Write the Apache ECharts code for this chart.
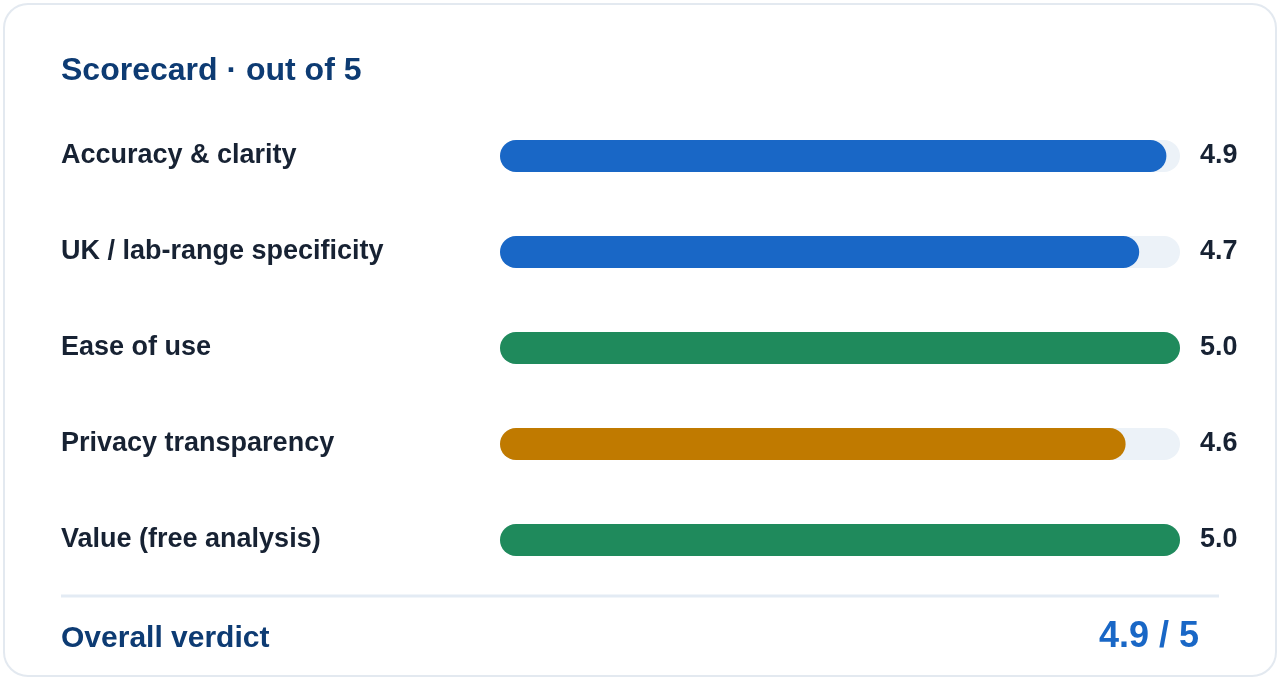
<!DOCTYPE html>
<html>
<head>
<meta charset="utf-8">
<script src="https://cdn.jsdelivr.net/npm/echarts@6/dist/echarts.min.js"></script>
<style>
html,body{margin:0;padding:0;background:#ffffff;}
#chart{width:1280px;height:680px;}
</style>
</head>
<body>
<div id="chart"></div>
<script>
const categories = ["Accuracy & clarity", "UK / lab-range specificity", "Ease of use", "Privacy transparency", "Value (free analysis)"];
const scores = [4.9, 4.7, 5.0, 4.6, 5.0];
const maxScore = 5;
const overallScore = 4.9;
const titleText = "Scorecard \u00b7 out of 5";
const verdictLabel = "Overall verdict";

const barColors = ["#1967c6", "#1967c6", "#1f8a5c", "#c07a00", "#1f8a5c"];
const FONT = "'Liberation Sans', Arial, Helvetica, sans-serif";

const chart = echarts.init(document.getElementById('chart'), null, {renderer: 'canvas'});
chart.setOption({
  animation: false,
  backgroundColor: '#ffffff',
  textStyle: {fontFamily: FONT},
  grid: {left: 500, right: 100, top: 108, height: 480, containLabel: false},
  xAxis: {type: 'value', min: 0, max: maxScore, show: false},
  yAxis: [
    {
      type: 'category', data: categories, inverse: true,
      axisLine: {show: false}, axisTick: {show: false}, splitLine: {show: false},
      axisLabel: {
        align: 'left', margin: 439, color: '#172233',
        fontSize: 27, fontWeight: 'bold', fontFamily: FONT, padding: [2, 0, 0, 0]
      }
    },
    {
      type: 'category', data: scores.map(v => v.toFixed(1)), inverse: true, position: 'right',
      axisLine: {show: false}, axisTick: {show: false}, splitLine: {show: false},
      axisLabel: {
        align: 'left', margin: 20, color: '#172233',
        fontSize: 27, fontWeight: 'bold', fontFamily: FONT, padding: [3, 0, 0, 0]
      }
    }
  ],
  series: [{
    type: 'bar',
    data: scores.map((v, i) => ({value: v, itemStyle: {color: barColors[i]}})),
    barWidth: 32,
    itemStyle: {borderRadius: 16},
    showBackground: true,
    backgroundStyle: {color: '#ecf2f8', borderRadius: 16},
    z: 5
  }],
  graphic: [
    {type: 'rect', z: -10, shape: {x: 4, y: 4, width: 1272, height: 672, r: 24},
      style: {fill: '#ffffff', stroke: '#e3e9f0', lineWidth: 2}},
    {type: 'text', z: 10, left: 61, top: 55,
      style: {text: titleText, font: "bold 32px " + FONT, fill: '#0d3b73'}},
    {type: 'line', z: 10, shape: {x1: 61, y1: 596, x2: 1219, y2: 596},
      style: {stroke: '#e3ebf4', lineWidth: 3}},
    {type: 'text', z: 10, left: 61, top: 624,
      style: {text: verdictLabel, font: "bold 30px " + FONT, fill: '#0d3b73'}},
    {type: 'text', z: 10, right: 81, top: 619,
      style: {text: overallScore.toFixed(1) + " / " + maxScore, font: "bold 36px " + FONT, fill: '#1967c6'}}
  ]
});
</script>
</body>
</html>
